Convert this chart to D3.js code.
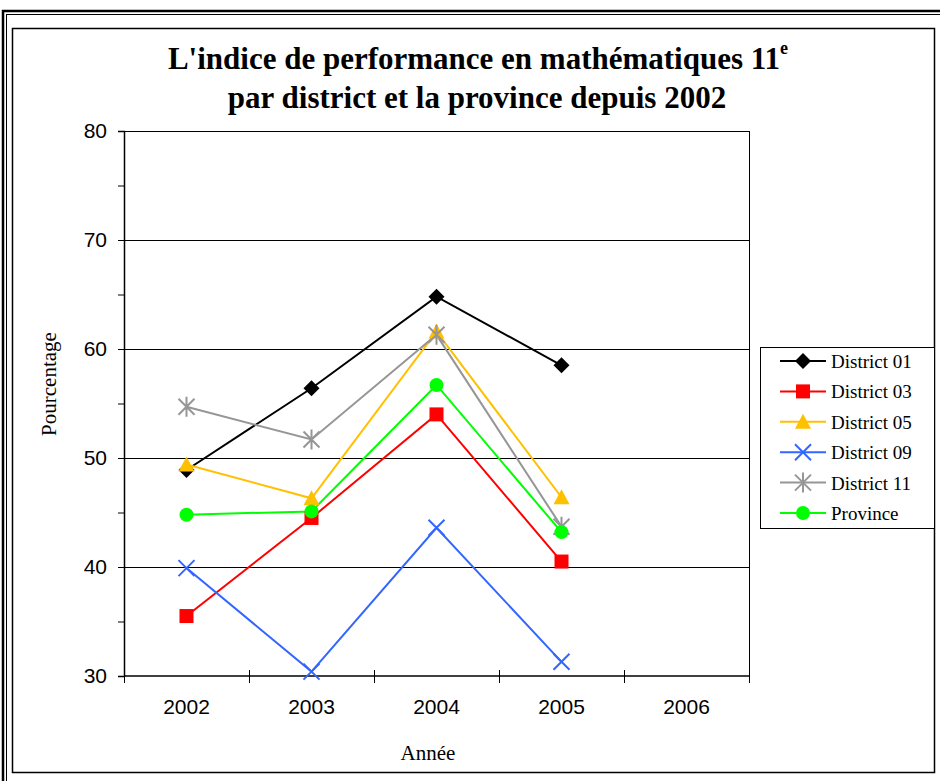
<!DOCTYPE html>
<html>
<head>
<meta charset="utf-8">
<script src="https://cdn.jsdelivr.net/npm/d3@7"></script>
<style>
  body { margin: 0; background: #fff; }
  svg { display: block; }
</style>
</head>
<body>
<script>
// data
const years = ["2002", "2003", "2004", "2005", "2006"];
const seriesNames = ["District 01", "District 03", "District 05", "District 09", "District 11", "Province"];
const district01 = [48.9, 56.4, 64.8, 58.5];
const district03 = [35.5, 44.5, 54.0, 40.5];
const district05 = [49.4, 46.3, 61.6, 46.4];
const district09 = [39.9, 30.4, 43.6, 31.3];
const district11 = [54.7, 51.7, 61.3, 43.7];
const province = [44.8, 45.1, 56.7, 43.2];
const yTicks = [30, 40, 50, 60, 70, 80];

const colors = ["#000000", "#ff0000", "#ffc000", "#3366ff", "#969696", "#00ff00"];
const shapes = ["diamond", "square", "triangle", "x", "star", "circle"];
const allValues = [district01, district03, district05, district09, district11, province];

const W = 940, H = 781;
const m = {left: 124, right: 749, top: 131, bottom: 676};
const serif = "Liberation Serif, Times New Roman, serif";
const sans = "Liberation Sans, Arial, sans-serif";

const svg = d3.select("body").append("svg")
    .attr("width", W)
    .attr("height", H);

// outer double frame + inner chart frame
svg.append("rect").attr("x", 3).attr("y", 11).attr("width", 950).attr("height", 790)
    .attr("fill", "none").attr("stroke", "#000").attr("stroke-width", 2.5);
svg.append("rect").attr("x", 6.5).attr("y", 14.5).attr("width", 950).attr("height", 790)
    .attr("fill", "none").attr("stroke", "#000").attr("stroke-width", 1);
svg.append("rect").attr("x", 12.5).attr("y", 28.5).attr("width", 922).attr("height", 744)
    .attr("fill", "none").attr("stroke", "#000").attr("stroke-width", 1.5);

const x = d3.scaleBand().domain(years).range([m.left, m.right]);
const y = d3.scaleLinear().domain([30, 80]).range([m.bottom, m.top]);

// gridlines
svg.append("g").selectAll("line")
    .data(yTicks.slice(1))
    .enter().append("line")
    .attr("x1", m.left).attr("x2", m.right)
    .attr("y1", d => y(d) + 0.5).attr("y2", d => y(d) + 0.5)
    .attr("stroke", "#000").attr("stroke-width", 1);

// plot right border
svg.append("line").attr("x1", m.right + 0.5).attr("x2", m.right + 0.5)
    .attr("y1", m.top).attr("y2", m.bottom).attr("stroke", "#000");

// y axis
const yAxis = d3.axisLeft(y).tickValues(d3.range(30, 81, 5))
    .tickSize(6)
    .tickFormat(d => yTicks.includes(d) ? d : "");
const gy = svg.append("g").attr("transform", `translate(${m.left},0)`).call(yAxis);
gy.select(".domain").attr("stroke-width", 1.5);
gy.selectAll("text").attr("font-family", sans)
    .attr("font-size", 21).attr("fill", "#000").attr("dx", -8);

// x axis
const gx = svg.append("g").attr("transform", `translate(0,${m.bottom})`);
gx.append("line").attr("x1", m.left).attr("x2", m.right)
    .attr("y1", 0).attr("y2", 0).attr("stroke", "#000").attr("stroke-width", 1.5);
const bounds = years.map(d => x(d)).concat([m.right]);
gx.selectAll("line.tk").data(bounds).enter().append("line").attr("class", "tk")
    .attr("x1", d => d + 0.5).attr("x2", d => d + 0.5)
    .attr("y1", -6).attr("y2", 7).attr("stroke", "#000");
gx.selectAll("text").data(years).enter().append("text")
    .attr("x", d => x(d) + x.bandwidth() / 2)
    .attr("y", 38)
    .attr("text-anchor", "middle")
    .attr("font-family", sans)
    .attr("font-size", 21)
    .text(d => d);

// titles
const title = svg.append("text").attr("text-anchor", "middle")
    .attr("font-family", serif)
    .attr("font-weight", "bold").attr("font-size", 31);
title.append("tspan").attr("x", 478).attr("y", 69).text("L'indice de performance en mathématiques 11");
title.append("tspan").attr("font-size", 18).attr("dy", -15).text("e");
svg.append("text").attr("text-anchor", "middle")
    .attr("x", 477).attr("y", 108)
    .attr("font-family", serif)
    .attr("font-weight", "bold").attr("font-size", 31)
    .text("par district et la province depuis 2002");

svg.append("text").attr("x", 428).attr("y", 760).attr("text-anchor", "middle")
    .attr("font-family", serif).attr("font-size", 21)
    .text("Année");
svg.append("text").attr("transform", "translate(56,384) rotate(-90)").attr("text-anchor", "middle")
    .attr("font-family", serif).attr("font-size", 21)
    .text("Pourcentage");

// markers
function drawMarker(g, shape, color) {
  if (shape === "diamond") {
    g.append("path").attr("d", "M0,-8L8,0L0,8L-8,0Z").attr("fill", color);
  } else if (shape === "square") {
    g.append("rect").attr("x", -7).attr("y", -7).attr("width", 14).attr("height", 14).attr("fill", color);
  } else if (shape === "triangle") {
    g.append("path").attr("d", "M0,-8L8,7L-8,7Z").attr("fill", color);
  } else if (shape === "x") {
    g.append("path").attr("d", "M-8,-8L8,8M-8,8L8,-8").attr("stroke", color).attr("stroke-width", 2);
  } else if (shape === "star") {
    g.append("path").attr("d", "M-8,-8L8,8M-8,8L8,-8M0,-10L0,10").attr("stroke", color).attr("stroke-width", 2);
  } else {
    g.append("circle").attr("r", 7).attr("fill", color);
  }
}

const line = d3.line()
    .x((d, i) => x(years[i]) + x.bandwidth() / 2)
    .y(d => y(d));

allValues.forEach((vals, s) => {
  svg.append("path").datum(vals)
    .attr("d", line)
    .attr("fill", "none").attr("stroke", colors[s]).attr("stroke-width", 2);
});
allValues.forEach((vals, s) => {
  vals.forEach((v, i) => {
    const g = svg.append("g")
      .attr("transform", `translate(${x(years[i]) + x.bandwidth() / 2},${y(v)})`);
    drawMarker(g, shapes[s], colors[s]);
  });
});

// legend
const lg = svg.append("g");
lg.append("rect").attr("x", 760.5).attr("y", 347.5).attr("width", 174).attr("height", 181)
  .attr("fill", "#fff").attr("stroke", "#000").attr("stroke-width", 1);
seriesNames.forEach((name, i) => {
  const cy = 361 + i * 30.4;
  lg.append("line").attr("x1", 780).attr("x2", 826).attr("y1", cy).attr("y2", cy)
    .attr("stroke", colors[i]).attr("stroke-width", 2);
  const g = lg.append("g").attr("transform", `translate(803,${cy})`);
  drawMarker(g, shapes[i], colors[i]);
  lg.append("text").attr("x", 831).attr("y", cy + 7)
    .attr("font-family", serif).attr("font-size", 19)
    .text(name);
});
</script>
</body>
</html>
